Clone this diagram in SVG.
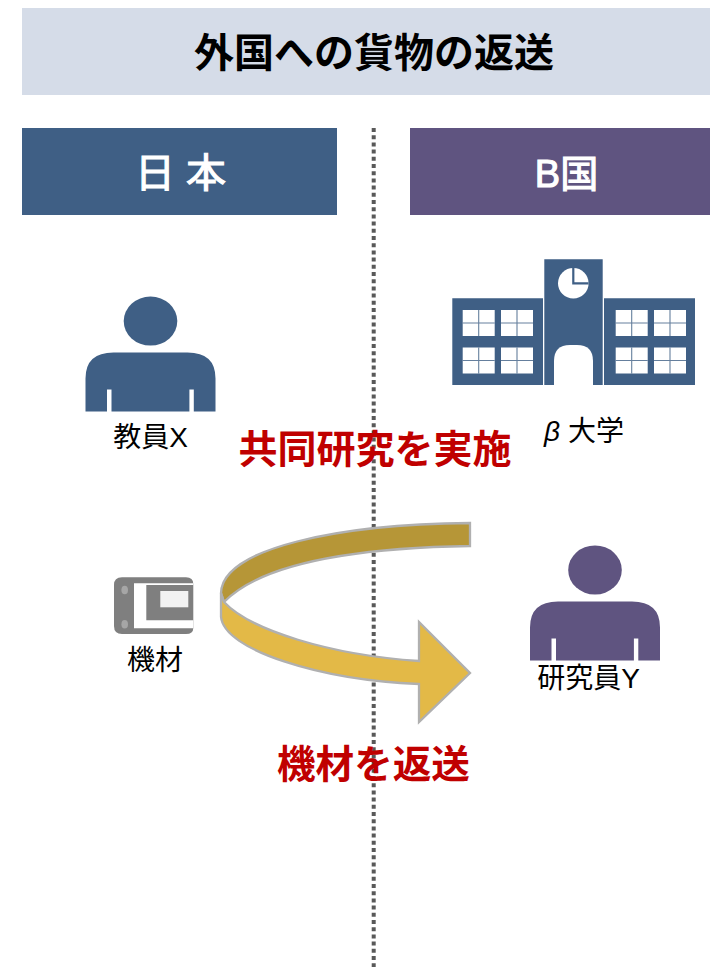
<svg xmlns="http://www.w3.org/2000/svg" width="710" height="967" viewBox="0 0 710 967">
<style>
text{font-family:"Liberation Sans","Noto Sans CJK JP",sans-serif;text-anchor:middle}
.lab{font-size:28px;fill:#000}
.hd{fill:#fff;stroke:#fff;stroke-width:1.100}
.red{font-weight:bold;fill:#c00000}
.bl{fill:#3f5f85}
.pu{fill:#5f5480}
.win{fill:#fff}
.winl{stroke:#3f5f85;stroke-width:1.1;fill:none;opacity:.8}
.ar{stroke:#b0b0b0;stroke-width:2.300;stroke-linejoin:miter}
</style>
<defs>
<g id="person">
<ellipse cx="65" cy="24.600" rx="26.800" ry="24.500"/>
<path fill-rule="evenodd" d="M0 115V82Q0 56 28 56H102Q130 56 130 82V115H108.300V93H103.900V115H26V93H21.500V115Z"/>
</g>
<g id="pane">
<rect class="win" width="32" height="26"/>
<path class="winl" d="M16 0V26M0 13H32"/>
</g>
</defs>
<g id="title"><rect x="22" y="8" width="688" height="87" fill="#d5dce8"/><text x="374" y="67" font-size="40" font-weight="bold" fill="#000">外国への貨物の返送</text></g>
<g id="head-japan"><rect x="22" y="128" width="315" height="87" class="bl"/><text x="180.500" y="187" font-size="40" class="hd" xml:space="preserve">日 本</text></g>
<g id="head-b"><rect x="410" y="128" width="300" height="87" class="pu"/><text x="566.500" y="187" font-size="38" class="hd">B国</text></g>
<g id="connectors">
<path d="M373.700 128V967" stroke="#595959" stroke-width="4" stroke-dasharray="4 3.200" fill="none"/>
<path class="ar" fill="#b69637" d="M470 523C340 524 222 548 221 593L224 602C260 565 350 548 470 546Z"/>
<path class="ar" fill="#e3b947" d="M221 593V617C224 650 320 680 419 684V722L470 673L419 622V661C330 655 250 630 224 602Z"/>
</g>
<g id="teacher-x"><use href="#person" x="85.500" y="296.500" class="bl"/><text x="150.500" y="447" class="lab">教員X</text></g>
<g id="university">
<path class="bl" d="M452.300 298.300H543V385H452.300ZM544.300 259.300H602.700V385H544.300ZM604 298.300H695V385H604Z"/>
<circle cx="573.300" cy="283.300" r="15.300" fill="#fff"/>
<path d="M573.300 268V283.300H588.600" stroke="#3f5f85" stroke-width="2.200" fill="none"/>
<path fill="#fff" d="M554 385V361Q554 345 570 345H577Q593 345 593 361V385Z"/>
<use href="#pane" x="462.700" y="310"/><use href="#pane" x="501" y="310"/><use href="#pane" x="462.700" y="347.500"/><use href="#pane" x="501" y="347.500"/>
<use href="#pane" x="615.700" y="310"/><use href="#pane" x="654" y="310"/><use href="#pane" x="615.700" y="347.500"/><use href="#pane" x="654" y="347.500"/>
<text x="584" y="441" class="lab"><tspan font-style="italic">β</tspan> 大学</text>
</g>
<g id="device">
<path fill="#7f7f7f" d="M122 577.300H186Q193.300 577.300 193.300 584V628Q193.300 634 186 634H122Q114 634 114 626V585Q114 577.300 122 577.300Z"/>
<path fill="#fff" d="M134 583.300H193.300V585H146.300V620.300H193.300V628.300H134Z"/>
<rect x="160.300" y="591" width="28" height="16.300" fill="#f2f2f2"/>
<ellipse cx="124.700" cy="590" rx="3.300" ry="4.300" fill="#a6a6a6"/><ellipse cx="124.700" cy="624.300" rx="3.300" ry="4.300" fill="#a6a6a6"/>
<text x="155" y="670" class="lab">機材</text>
</g>
<g id="researcher-y"><use href="#person" x="530" y="545.400" class="pu"/><text x="588.500" y="688" class="lab">研究員Y</text></g>
<g id="label-joint"><text x="375" y="463" font-size="39" class="red">共同研究を実施</text></g>
<g id="label-return"><text x="373.500" y="778" font-size="38.600" class="red">機材を返送</text></g>
</svg>
